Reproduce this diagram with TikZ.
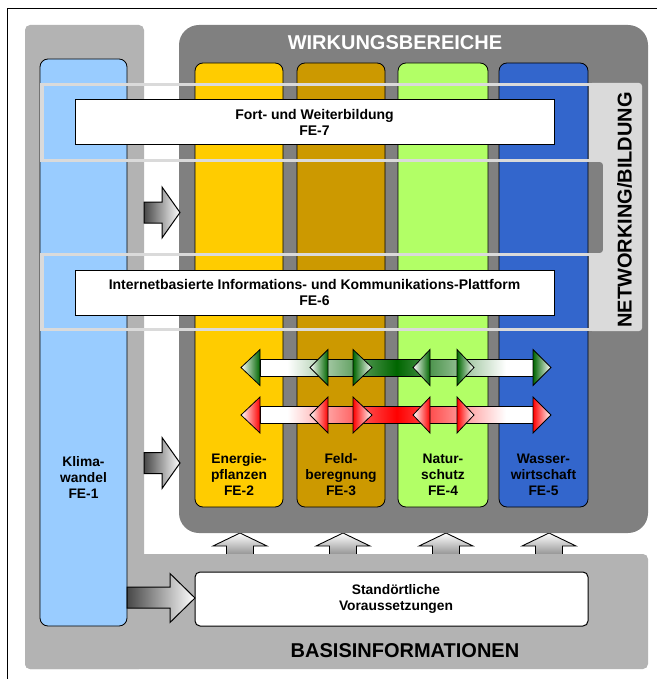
\documentclass[tikz,border=0pt]{standalone}
\usepackage{fontspec}
\setmainfont{Liberation Sans}
\definecolor{Lgray}{HTML}{B3B3B3}
\definecolor{Dgray}{HTML}{808080}
\definecolor{Kblue}{HTML}{99CCFF}
\definecolor{Fyellow}{HTML}{FFCC00}
\definecolor{Fbrown}{HTML}{CC9900}
\definecolor{Fgreen}{HTML}{B2FF66}
\definecolor{Fblue}{HTML}{3366CC}
\definecolor{Nband}{HTML}{DADADA}
\definecolor{dkgreen}{HTML}{006600}
\definecolor{brred}{HTML}{FF0000}
\pgfdeclarehorizontalshading{greenbar}{100bp}{color(0bp)=(white); color(25bp)=(white); color(30bp)=(white); color(50bp)=(dkgreen); color(70bp)=(white); color(75bp)=(white); color(100bp)=(white)}
\pgfdeclarehorizontalshading{redbar}{100bp}{color(0bp)=(white); color(25bp)=(white); color(30bp)=(white); color(50bp)=(brred); color(70bp)=(white); color(75bp)=(white); color(100bp)=(white)}
\newcommand\myLhead[4]{\path[draw=black, line width=0.8pt, left color=white, right color=#4] (#1,#3) -- (#2,#3-18) -- (#2,#3+18) -- cycle;}
\newcommand\myRhead[4]{\path[draw=black, line width=0.8pt, left color=#4, right color=white] (#1,#3) -- (#2,#3-18) -- (#2,#3+18) -- cycle;}
\newcommand\myUp[1]{\path[draw=black, line width=0.9pt, top color=white, bottom color=black!45] (#1-13.5,556) -- (#1-13.5,546) -- (#1-27,546) -- (#1,533) -- (#1+27,546) -- (#1+13.5,546) -- (#1+13.5,556);}
\begin{document}
\begin{tikzpicture}[x=1pt,y=-1pt,
  col/.style={draw=black, line width=0.8pt, rounded corners=8pt},
  lbl/.style={font=\bfseries\fontsize{13.8}{16}\selectfont, align=center, inner sep=0pt},
  big/.style={font=\bfseries\fontsize{20}{22}\selectfont, inner sep=0pt},
  wbox/.style={draw=black, line width=1pt, fill=white, inner sep=0pt, align=center, font=\bfseries\fontsize{14}{16.5}\selectfont},
  barrow/.style={draw=black, line width=1pt, left color=black!72, right color=white},
  shaft/.style={draw=black, line width=0.8pt}]
\useasboundingbox (0,0) rectangle (656,679);
% outer frame
\draw[line width=1pt] (7.5,700) -- (7.5,8.5) -- (700,8.5);
% up arrows (behind the base band)
\myUp{240}
\myUp{343}
\myUp{446}
\myUp{549}
% base L-shape
\fill[Lgray, rounded corners=5pt] (25,25) rectangle (144,669);
\fill[Lgray, rounded corners=5pt] (25,554) rectangle (648,669);
% Wirkungsbereiche
\fill[Dgray, rounded corners=20pt] (179,25) rectangle (648,533);
\node[big, text=white] (wb) at (395,43) {WIRKUNGSBEREICHE};
% columns
\path[col, fill=Kblue] (40,59) rectangle (127,626);
\path[col, fill=Fyellow] (195,63) rectangle (283,507);
\path[col, fill=Fbrown] (297,63) rectangle (385,507);
\path[col, fill=Fgreen] (398,63) rectangle (488,507);
\path[col, fill=Fblue] (499,63) rectangle (588,507);
\node[lbl] (fe1) at (83.5,477) {Klima-\\wandel\\FE-1};
\node[lbl] (fe2) at (239,474.5) {Energie-\\pflanzen\\FE-2};
\node[lbl] (fe3) at (341,474.5) {Feld-\\beregnung\\FE-3};
\node[lbl] (fe4) at (443,474.5) {Natur-\\schutz\\FE-4};
\node[lbl] (fe5) at (543.5,474.5) {Wasser-\\wirtschaft\\FE-5};
% networking band
\fill[Nband, rounded corners=3pt] (589,83) -- (642,83) -- (642,331) -- (589,331) -- (589,253) -- (603,253) -- (603,162) -- (589,162) -- cycle;
\draw[Nband, line width=3.5pt] (41.75,84.5) rectangle (601.5,160.5);
\draw[Nband, line width=3.5pt] (41.75,254.5) rectangle (601.5,329.5);
\node[big, rotate=90] (nw) at (624.5,210) {NETWORKING/BILDUNG};
% white boxes
\node[wbox, minimum width=479pt, minimum height=45pt] (fe7) at (314.5,122.5) {Fort- und Weiterbildung\\FE-7};
\node[wbox, minimum width=479pt, minimum height=45pt] (fe6) at (314.5,292.5) {Internetbasierte Informations- und Kommunikations-Plattform\\FE-6};
\node[wbox, rounded corners=5pt, minimum width=393pt, minimum height=54pt] (sv) at (391.5,599) {};
\node[lbl] (svt) at (396,599) {Standörtliche\\Voraussetzungen};
\node[big] (bi) at (405,651) {BASISINFORMATIONEN};
% green double arrows
\path[shaft, shading=greenbar] (260,359) rectangle (533,376);
\myLhead{241}{260}{367.5}{dkgreen}
\myLhead{310}{328}{367.5}{dkgreen}
\myLhead{413}{430}{367.5}{dkgreen}
\myRhead{372}{353}{367.5}{dkgreen}
\myRhead{474}{457}{367.5}{dkgreen}
\myRhead{551}{533}{367.5}{dkgreen}
% red double arrows
\path[shaft, shading=redbar] (260,406.5) rectangle (533,423.5);
\myLhead{241}{260}{415}{brred}
\myLhead{310}{328}{415}{brred}
\myLhead{413}{430}{415}{brred}
\myRhead{372}{353}{415}{brred}
\myRhead{474}{457}{415}{brred}
\myRhead{551}{533}{415}{brred}
% block arrows
\path[barrow] (144,202) -- (162,202) -- (162,187) -- (180,212.5) -- (162,238) -- (162,223) -- (144,223) -- cycle;
\path[barrow] (144,452.5) -- (162,452.5) -- (162,437.5) -- (180,463) -- (162,488.5) -- (162,473.5) -- (144,473.5) -- cycle;
\path[barrow] (127,587) -- (170,587) -- (170,573.5) -- (195,598) -- (170,622.5) -- (170,608) -- (127,608) -- cycle;
\end{tikzpicture}
\end{document}
